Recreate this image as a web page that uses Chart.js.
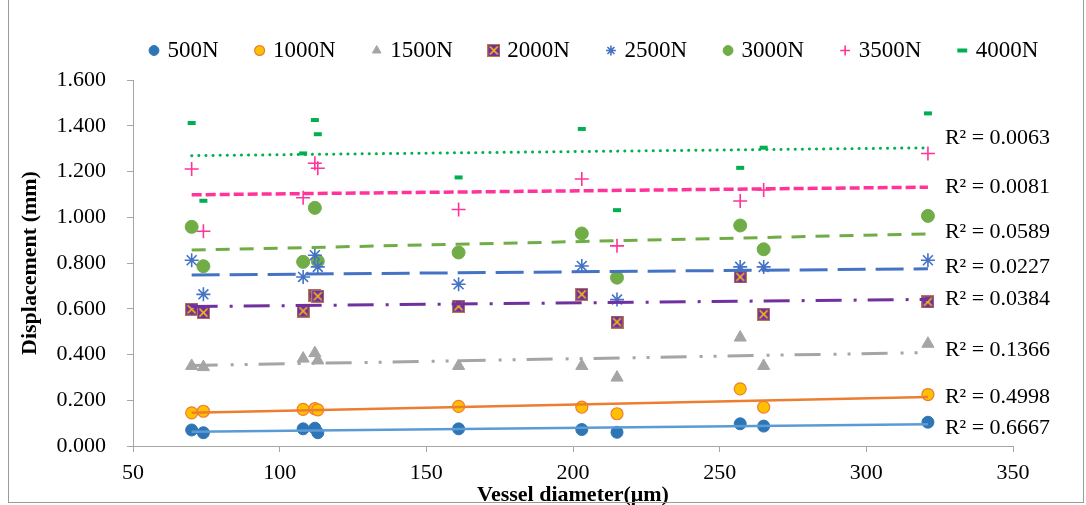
<!DOCTYPE html>
<html>
<head>
<meta charset="utf-8">
<title>Displacement vs vessel diameter</title>
<script src="https://cdn.jsdelivr.net/npm/chart.js@4.4.0/dist/chart.umd.min.js"></script>
<style>
  html, body { margin: 0; padding: 0; background: #fff; }
  #wrap { position: relative; width: 1086px; height: 505px; }
  #frame { position: absolute; left: 8px; top: -1px; width: 1074px; height: 503px;
           border: 1px solid #9a9a9a; border-top: none; pointer-events: none; }
</style>
</head>
<body>
<div id="wrap">
  <canvas id="chart" width="1086" height="505"></canvas>
  <div id="frame"></div>
</div>
<script>
// vessel diameter (µm) of each sample
const diameters = [70, 74, 108, 112, 113, 161, 203, 215, 257, 265, 321];

// displacement (mm) per load
const disp500  = [0.070, 0.058, 0.075, 0.078, 0.058, 0.075, 0.072, 0.060, 0.097, 0.087, 0.104];
const disp1000 = [0.145, 0.152, 0.160, 0.163, 0.158, 0.173, 0.170, 0.141, 0.250, 0.170, 0.225];
const disp1500 = [0.350, 0.345, 0.382, 0.406, 0.374, 0.350, 0.350, 0.299, 0.474, 0.350, 0.447];
const disp2000 = [0.598, 0.583, 0.590, 0.659, 0.655, 0.611, 0.663, 0.542, 0.739, 0.576, 0.630];
const disp2500 = [0.812, 0.663, 0.739, 0.834, 0.783, 0.707, 0.787, 0.640, 0.783, 0.783, 0.812];
const disp3000 = [0.958, 0.786, 0.805, 1.041, 0.808, 0.846, 0.929, 0.736, 0.964, 0.860, 1.006];
const disp3500 = [1.211, 0.939, 1.085, 1.236, 1.214, 1.034, 1.167, 0.875, 1.071, 1.119, 1.279];
const disp4000 = [1.412, 1.072, 1.279, 1.425, 1.363, 1.174, 1.386, 1.031, 1.216, 1.304, 1.454];

const loadNames = ['500N', '1000N', '1500N', '2000N', '2500N', '3000N', '3500N', '4000N'];
const r2Values = ['0.6667', '0.4998', '0.1366', '0.0384', '0.0227', '0.0589', '0.0081', '0.0063'];

const allSeries = [disp500, disp1000, disp1500, disp2000, disp2500, disp3000, disp3500, disp4000];

const FONT = 'Liberation Serif';

// purple square with a yellow cross, like the 2000N marker
function squareX() {
    let c = document.createElement('canvas');
    c.width = 13;
    c.height = 13;
    let g = c.getContext('2d');
    g.fillStyle = '#7030A0';
    g.fillRect(0, 0, 13, 13);
    g.strokeStyle = '#FFC000';
    g.lineWidth = 1.6;
    g.beginPath();
    g.moveTo(2.5, 2.5); g.lineTo(10.5, 10.5);
    g.moveTo(10.5, 2.5); g.lineTo(2.5, 10.5);
    g.stroke();
    g.strokeStyle = 'rgba(255,192,0,0.5)';
    g.lineWidth = 1;
    g.strokeRect(0.5, 0.5, 12, 12);
    return c;
}

const markers = [
    {pointStyle: 'circle',   pointRadius: 6,   pointBackgroundColor: '#2E75B6', pointBorderColor: '#2E75B6', pointBorderWidth: 1},
    {pointStyle: 'circle',   pointRadius: 6,   pointBackgroundColor: '#FFC000', pointBorderColor: '#ED7D31', pointBorderWidth: 1.2},
    {pointStyle: 'triangle', pointRadius: 7,   pointBackgroundColor: '#A5A5A5', pointBorderColor: '#A5A5A5', pointBorderWidth: 1},
    {pointStyle: squareX(),  pointRadius: 7,   pointBackgroundColor: '#7030A0', pointBorderColor: '#7030A0', pointBorderWidth: 1},
    {pointStyle: 'star',     pointRadius: 7,   pointBackgroundColor: '#4472C4', pointBorderColor: '#4472C4', pointBorderWidth: 1.6},
    {pointStyle: 'circle',   pointRadius: 6.5, pointBackgroundColor: '#70AD47', pointBorderColor: '#70AD47', pointBorderWidth: 1},
    {pointStyle: 'cross',    pointRadius: 7,   pointBackgroundColor: '#FF3399', pointBorderColor: '#FF3399', pointBorderWidth: 1.6},
    {pointStyle: 'line',     pointRadius: 4,   pointBackgroundColor: '#00B050', pointBorderColor: '#00B050', pointBorderWidth: 4}
];

const trendStyles = [
    {borderColor: '#5B9BD5', borderWidth: 2.5, borderDash: []},
    {borderColor: '#ED7D31', borderWidth: 2.5, borderDash: []},
    {borderColor: '#A5A5A5', borderWidth: 3,   borderDash: [26, 13, 3, 11, 3, 11]},
    {borderColor: '#7030A0', borderWidth: 3,   borderDash: [26, 12, 3, 11]},
    {borderColor: '#4472C4', borderWidth: 3,   borderDash: [28, 10]},
    {borderColor: '#70AD47', borderWidth: 3,   borderDash: [14, 10]},
    {borderColor: '#FF3399', borderWidth: 3.5, borderDash: [10, 4]},
    {borderColor: '#00B050', borderWidth: 3,   borderDash: [0.1, 7], borderCapStyle: 'round'}
];

function linFit(xs, ys) {
    let n = xs.length, sx = 0, sy = 0, sxx = 0, sxy = 0;
    for (let i = 0; i < n; i++) {
        sx += xs[i]; sy += ys[i];
        sxx += xs[i] * xs[i]; sxy += xs[i] * ys[i];
    }
    let b = (n * sxy - sx * sy) / (n * sxx - sx * sx);
    let a = (sy - b * sx) / n;
    return [a, b];
}

let trendSets = [];
let pointSets = [];
const xMin = Math.min(...diameters);
const xMax = Math.max(...diameters);

allSeries.forEach((vals, i) => {
    let [a, b] = linFit(diameters, vals);
    trendSets.push(Object.assign({
        label: 'trend ' + loadNames[i],
        isTrend: true,
        seriesIndex: i,
        r2: r2Values[i],
        showLine: true,
        pointRadius: 0,
        fill: false,
        data: [{x: xMin, y: a + b * xMin}, {x: xMax, y: a + b * xMax}]
    }, trendStyles[i]));

    pointSets.push(Object.assign({
        label: loadNames[i],
        showLine: false,
        data: diameters.map((d, k) => ({x: d, y: vals[k]}))
    }, markers[i]));
});

// Excel-like: trend lines drawn over the markers
const datasets = trendSets.concat(pointSets);

// fixed legend band height, then slide the row to where the original sits
const legendBand = {
    id: 'legendBand',
    beforeInit(chart) {
        let fit = chart.legend.fit;
        chart.legend.fit = function() {
            fit.bind(chart.legend)();
            this.height = 80;
        };
    },
    afterLayout(chart) {
        let lg = chart.legend;
        let rowWidth = lg.lineWidths ? lg.lineWidths[0] : 0;
        let pad = lg.options.labels.padding;
        let startNow = (lg.left + pad + lg.right - rowWidth) / 2;
        let shift = 152 - startNow;
        lg.left += shift;
        lg.right += shift;
    }
};

// the R² text at the right end of each trend line
const labelNudge = [4, 0, -2, 0, -2, -2, 0, -10];
const r2Labels = {
    id: 'r2Labels',
    afterDatasetsDraw(chart) {
        let ctx = chart.ctx;
        ctx.save();
        ctx.font = '22px "' + FONT + '"';
        ctx.fillStyle = '#000';
        ctx.textBaseline = 'middle';
        ctx.textAlign = 'left';
        chart.data.datasets.forEach((ds, i) => {
            if (!ds.isTrend) return;
            let pts = chart.getDatasetMeta(i).data;
            let end = pts[pts.length - 1];
            ctx.fillText('R\u00B2 = ' + ds.r2, end.x + 17, end.y + labelNudge[ds.seriesIndex]);
        });
        ctx.restore();
    }
};

Chart.defaults.color = '#000';
Chart.defaults.font.family = FONT;

let ctx = document.getElementById('chart').getContext('2d');

let myChart = new Chart(ctx, {
    type: 'scatter',
    data: { datasets: datasets },
    options: {
        responsive: false,
        animation: false,
        layout: { padding: { top: 0, left: 0, right: 73, bottom: 0 } },
        plugins: {
            tooltip: { enabled: false },
            legend: {
                position: 'top',
                fullSize: true,
                labels: {
                    usePointStyle: true,
                    boxWidth: 4,
                    boxHeight: 7,
                    padding: 39,
                    font: { size: 23, family: FONT },
                    color: '#000',
                    filter: (item, data) => !data.datasets[item.datasetIndex].isTrend
                }
            }
        },
        scales: {
            x: {
                type: 'linear',
                min: 50,
                max: 350,
                afterFit: scale => { scale.height = 59; },
                ticks: { stepSize: 50, padding: 8, font: { size: 22 }, color: '#000' },
                grid: { display: true, drawOnChartArea: false, drawTicks: true, tickLength: 6, color: '#a6a6a6' },
                border: { display: true, color: '#a6a6a6' },
                title: {
                    display: true,
                    text: 'Vessel diameter(\u03BCm)',
                    font: { size: 22, weight: 'bold' },
                    color: '#000',
                    padding: { top: 0, bottom: -4 }
                }
            },
            y: {
                min: 0,
                max: 1.6,
                afterFit: scale => { scale.width = 133; },
                ticks: {
                    stepSize: 0.2,
                    padding: 21,
                    font: { size: 22 },
                    color: '#000',
                    callback: v => v.toFixed(3)
                },
                grid: { display: true, drawOnChartArea: false, drawTicks: true, tickLength: 6, color: '#a6a6a6' },
                border: { display: true, color: '#a6a6a6' },
                title: {
                    display: true,
                    text: 'Displacement (mm)',
                    font: { size: 22, weight: 'bold' },
                    color: '#000',
                    padding: { top: 17, bottom: 0 }
                }
            }
        }
    },
    plugins: [legendBand, r2Labels]
});
</script>
</body>
</html>
